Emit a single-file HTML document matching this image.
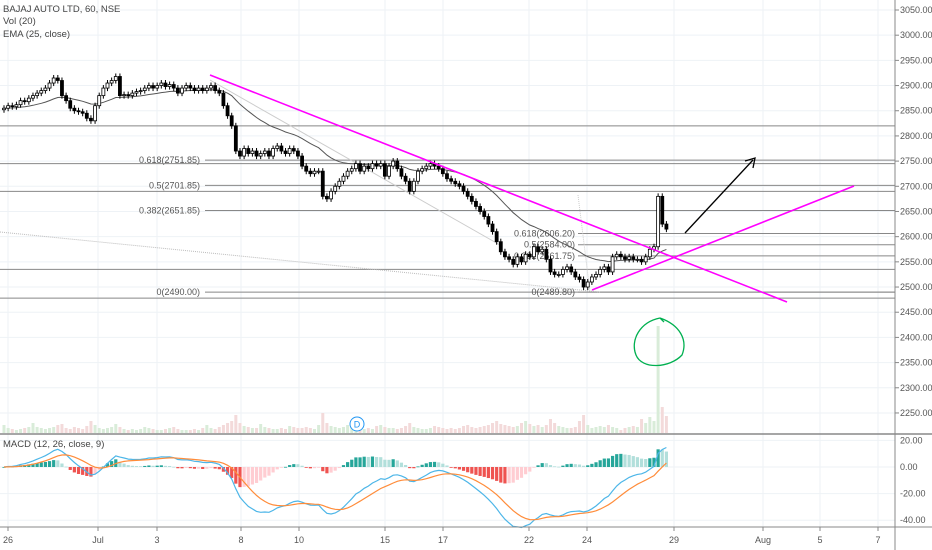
<!DOCTYPE html>
<html><head><meta charset="utf-8"><style>
html,body{margin:0;padding:0;background:#fff;}
svg{display:block;font-family:"Liberation Sans",sans-serif;}
</style></head><body>
<svg id="c" width="932" height="550"></svg>
<script>
const closes=[2855,2860,2858,2862,2870,2868,2875,
2880,2885,2890,2895,2905,2915,2910,
2880,2870,2855,2850,2848,2845,2835,
2830,2860,2880,2895,2905,2910,2918,
2880,2882,2880,2885,2888,2890,2895,
2900,2895,2900,2905,2898,2902,2895,
2885,2895,2900,2895,2890,2895,2890,
2895,2900,2890,2885,2860,2840,2820,
2770,2760,2775,2765,2770,2760,2765,
2770,2760,2775,2780,2770,2765,2775,
2770,2760,2740,2730,2725,2730,2730,
2680,2675,2690,2700,2710,2720,2730,
2735,2745,2730,2740,2735,2745,2740,
2745,2720,2740,2750,2735,2720,2710,
2690,2710,2730,2735,2740,2745,2740,
2735,2725,2715,2710,2705,2700,2690,
2680,2670,2660,2650,2640,2625,2610,
2590,2570,2560,2555,2545,2560,2550,
2565,2560,2580,2570,2575,2555,2530,
2525,2525,2535,2540,2530,2520,2515,
2500,2510,2520,2525,2535,2540,2530,
2560,2565,2560,2555,2560,2555,2555,
2550,2560,2575,2580,2680,2625,2615];
const volumes=[8,5,4,3,4,5,6,10,6,5,4,5,6,8,9,5,4,6,5,4,7,12,8,5,4,5,6,9,6,4,3,4,3,4,6,5,4,3,3,4,5,6,4,3,3,3,4,3,5,8,5,4,6,8,10,12,18,10,7,6,5,5,9,6,5,4,4,5,4,7,6,5,5,6,5,4,8,20,10,7,6,5,6,8,6,5,4,4,5,4,7,8,6,5,5,4,5,7,10,6,5,4,4,5,7,6,5,4,5,4,5,7,8,6,5,6,7,8,10,12,9,8,7,6,7,10,12,9,7,8,6,8,14,10,7,6,5,5,6,12,18,8,5,6,7,6,8,6,5,3,5,6,7,6,14,10,16,12,107,26,17];
const priceTicks=[3050,3000,2950,2900,2850,2800,2750,2700,2650,2600,2550,2500,2450,2400,2350,2300,2250];
const macdTicks=[20,0,-20,-40];
const dateLabels=["26","Jul","3","8","10","15","17","22","24","29","Aug","5","7"];
const dateX=[8,98,157,241,299,385,443,529,587,674,763,820,878];
const fibA=[["0.618(2751.85)",2751.85],["0.5(2701.85)",2701.85],["0.382(2651.85)",2651.85],["0(2490.00)",2490]];
const fibB=[["0.618(2606.20)",2606.2],["0.5(2584.00)",2584],["0.382(2561.75)",2561.75],["0(2489.80)",2489.8]];
const extraLines=[2820,2745,2690,2535];

const NS="http://www.w3.org/2000/svg";
const svg=document.getElementById('c');
function el(t,a,p){const e=document.createElementNS(NS,t);for(const k in a)e.setAttribute(k,a[k]);(p||svg).appendChild(e);return e;}
const PW=895;
const y=p=>10+(3050-p)*0.5037;
const x=i=>4+i*4.14;
const my=v=>467-v*1.33;

// grid
for(const gx of dateX){const g=el('line',{x1:gx,x2:gx,y1:0,y2:527,stroke:'#eef2f6'});}
for(const t of priceTicks){const g=el('line',{x1:0,x2:PW,y1:y(t),y2:y(t),stroke:'#eef2f6'});}
for(const t of macdTicks){const g=el('line',{x1:0,x2:PW,y1:my(t),y2:my(t),stroke:'#eef2f6'});}

// volume
const vg=el('g',{});
volumes.forEach((v,i)=>{const up=closes[i]>=(i?closes[i-1]:closes[0]);
 const r=el('rect',{x:x(i)-1.5,y:433-v,width:3,height:v,fill:up?'#d9ecd9':'#f3dada'},vg);
 });

// fib/horizontal lines
fibA.forEach(([l,p])=>{const ln=el('line',{x1:205,x2:PW,y1:y(p),y2:y(p),stroke:'#888'});
 const tx=el('text',{x:200,y:y(p)+3,'font-size':9,fill:'#555','text-anchor':'end'});tx.textContent=l;});
fibB.forEach(([l,p])=>{const ln=el('line',{x1:578,x2:PW,y1:y(p),y2:y(p),stroke:'#888'});
 const tx=el('text',{x:575,y:y(p)+3,'font-size':9,fill:'#555','text-anchor':'end'});tx.textContent=l;});
extraLines.forEach(p=>{const ln=el('line',{x1:0,x2:PW,y1:y(p),y2:y(p),stroke:'#888'});});
[[0,0,0],[2490,0,200]].forEach(()=>{});
{const ln=el('line',{x1:0,x2:PW,y1:y(2478),y2:y(2478),stroke:'#888'});}

// dotted trend lines
{const a=el('line',{x1:0,y1:232,x2:600,y2:292,stroke:'#bbb','stroke-dasharray':'1,1'});
 const b=el('line',{x1:210,y1:80,x2:500,y2:245,stroke:'#ccc'});
 const c=el('line',{x1:578,y1:195,x2:590,y2:292,stroke:'#ccc','stroke-dasharray':'1,1'});}

// EMA
const ema=[];let k=2/26;closes.forEach((c,i)=>ema.push(i?c*k+ema[i-1]*(1-k):c));
{const p=el('path',{d:ema.map((v,i)=>(i?'L':'M')+x(i).toFixed(1)+','+y(v).toFixed(1)).join(''),fill:'none',stroke:'#555','stroke-width':1});}

// candles
const cg=el('g',{});
closes.forEach((c,i)=>{const o=i?closes[i-1]:c-3;const hi=Math.max(o,c)+6,lo=Math.min(o,c)-6;
 const w=el('line',{x1:x(i),x2:x(i),y1:y(hi),y2:y(lo),stroke:'#000'},cg);
 const t=y(Math.max(o,c)),h=Math.max(1,y(Math.min(o,c))-t);
 const r=el('rect',{x:x(i)-1.5,y:t,width:3,height:h,fill:c>=o?'#fff':'#000',stroke:'#000','stroke-width':0.8},cg);});

// drawings
{const m1=el('line',{x1:210,y1:75,x2:787,y2:302,stroke:'#ff00ff','stroke-width':1.6});
 const m2=el('line',{x1:592,y1:290,x2:854,y2:186,stroke:'#ff00ff','stroke-width':1.6});
 const ar=el('line',{x1:685,y1:233,x2:753,y2:160,stroke:'#000','stroke-width':1.3});
 const ah=el('path',{d:'M745,161 L755,158 L753,168',fill:'none',stroke:'#000','stroke-width':1.3});
 const gc=el('path',{d:'M660,318 C640,322 630,340 636,355 C642,370 670,368 682,355 C688,340 680,325 660,318 L664,322',fill:'none',stroke:'#00b050','stroke-width':1.3});
 const dc=el('circle',{cx:357,cy:424,r:7,fill:'#fff',stroke:'#2196f3'});
 const dt=el('text',{x:357,y:427.5,'font-size':9,fill:'#2196f3','text-anchor':'middle'});dt.textContent='D';}

// MACD
function emaArr(a,n){const r=[];const kk=2/(n+1);a.forEach((v,i)=>r.push(i?v*kk+r[i-1]*(1-kk):v));return r;}
const e12=emaArr(closes,12),e26=emaArr(closes,26);
const macd=e12.map((v,i)=>v-e26[i]);const sig=emaArr(macd,9);
const mg=el('g',{});
macd.forEach((m,i)=>{const h=m-sig[i],ph=i?macd[i-1]-sig[i-1]:0;
 const col=h>=0?(h>=ph?'#26a69a':'#b2dfdb'):(h<ph?'#ef5350':'#ffcdd2');
 const t=Math.min(my(h),467),hh=Math.max(0.8,Math.abs(my(h)-467));
 const r=el('rect',{x:x(i)-1.6,y:t,width:3.2,height:hh,fill:col},mg);});
{const p=el('path',{d:macd.map((v,i)=>(i?'L':'M')+x(i).toFixed(1)+','+my(v).toFixed(1)).join(''),fill:'none',stroke:'#4db6e8','stroke-width':1.2});
 const s=el('path',{d:sig.map((v,i)=>(i?'L':'M')+x(i).toFixed(1)+','+my(v).toFixed(1)).join(''),fill:'none',stroke:'#ff8c3a','stroke-width':1.2});}

// separators & axes
{const s=el('line',{x1:0,x2:932,y1:434,y2:434,stroke:'#888','stroke-width':1.5});
 const b=el('line',{x1:0,x2:932,y1:527,y2:527,stroke:'#888'});
 const r=el('line',{x1:PW,x2:PW,y1:0,y2:550,stroke:'#888'});}
priceTicks.forEach(t=>{const tk=el('line',{x1:PW,x2:PW+4,y1:y(t),y2:y(t),stroke:'#888'});
 const tx=el('text',{x:900,y:y(t)+3,'font-size':9,fill:'#555'});tx.textContent=t.toFixed(2);});
macdTicks.forEach(t=>{const tx=el('text',{x:900,y:my(t)+3,'font-size':9,fill:'#555'});tx.textContent=t.toFixed(2);});
dateLabels.forEach((l,i)=>{const tk=el('line',{x1:dateX[i],x2:dateX[i],y1:527,y2:531,stroke:'#888'});
 const tx=el('text',{x:dateX[i],y:543,'font-size':9,fill:'#555','text-anchor':'middle'});tx.textContent=l;});

// legends
[['BAJAJ AUTO LTD, 60, NSE',12],['Vol (20)',24],['EMA (25, close)',37]].forEach(([t,yy])=>{const tx=el('text',{x:3,y:yy,'font-size':9.5,fill:'#444'});tx.textContent=t;});
{const tx=el('text',{x:3,y:447,'font-size':9.5,fill:'#444'});tx.textContent='MACD (12, 26, close, 9)';}
</script>
</body></html>
